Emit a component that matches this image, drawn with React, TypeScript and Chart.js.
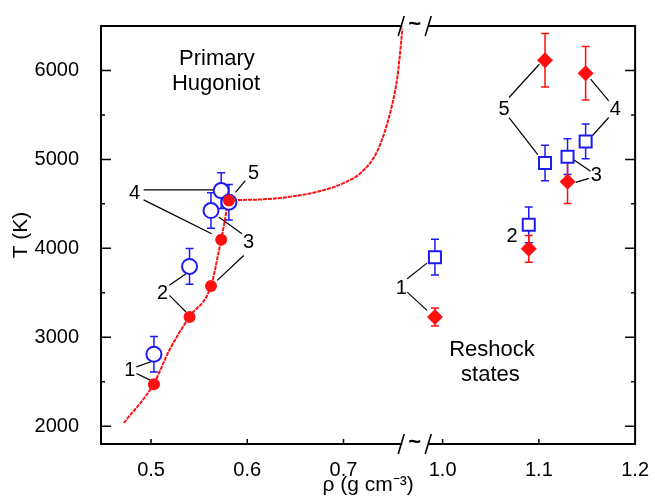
import React, { useEffect, useRef } from "react";
import { Chart, registerables } from "chart.js";
Chart.register(...registerables);

// ---- axis break handling (real density -> display coordinate) ----
const BREAK_OFFSET = 0.197;
const BREAK_AT = 0.7745;
const disp = (rho: number) => (rho > 0.85 ? rho - BREAK_OFFSET : rho);

const X_MIN = 0.448;
const X_MAX = 1.2;
const Y_MIN = 1800;
const Y_MAX = 6500;

const xTickValues = [0.5, 0.6, 0.7, 1.0, 1.1, 1.2];
const xTickLabels = ["0.5", "0.6", "0.7", "1.0", "1.1", "1.2"];
const yTickValues = [2000, 3000, 4000, 5000, 6000];
const yTickLabels = ["2000", "3000", "4000", "5000", "6000"];
const yMinorTicks = [2500, 3500, 4500, 5500];

// ---- primary Hugoniot ----
const hugRho = [0.503, 0.54, 0.5623, 0.5729, 0.5809];
const hugTcalc = [2473, 3228, 3576, 4096, 4537];
const hugTmeas = [2810, 3797, 4425, 4649, 4518];
const hugTmeasErr = [200, 200, 200, 200, 200];

// ---- reshock states ----
const reRho = [0.992, 1.0895, 1.1298, 1.1486, 1.1064];
const reTmeas = [3901, 4264, 5031, 5202, 4960];
const reTmeasErr = [200, 200, 200, 195, 200];
const reTcalc = [3228, 3995, 4750, 5969, 6115];
const reTcalcErr = [100, 150, 245, 300, 300];

// ---- calculated Hugoniot curve ----
const curveRho = [0.4717, 0.5026, 0.519, 0.5397, 0.5623, 0.5706, 0.5729, 0.5767, 0.5809, 0.5991, 0.6527, 0.6838, 0.7013, 0.7181, 0.7353, 0.749, 0.7559, 0.76, 0.7614];
const curveT = [2036, 2473, 2854, 3228, 3576, 3976, 4096, 4313, 4537, 4545, 4593, 4668, 4740, 4850, 5098, 5547, 5920, 6332, 6500];

// ---- number labels and leader lines ----
const labelText = ["1", "2", "3", "4", "5", "1", "2", "3", "4", "5"];
const labelRho = [0.4779, 0.5119, 0.6014, 0.483, 0.6066, 0.957, 1.0721, 1.1596, 1.1795, 1.0638];
const labelT = [2630, 3494, 4066, 4616, 4840, 3553, 4137, 4817, 5558, 5566];

const noteText = ["Primary", "Hugoniot", "Reshock", "states"];
const noteRho = [0.5685, 0.5675, 1.0513, 1.0497];
const noteT = [6130, 5849, 2854, 2574];

const leaderRho0 = [0.4848, 0.4848, 0.5191, 0.5191, 0.5706, 0.5688, 0.4923, 0.4923, 0.598, 0.9632, 0.9632, 1.1537, 1.152, 1.1726, 1.1726, 1.069, 1.069];
const leaderT0 = [2667, 2593, 3584, 3471, 4350, 3640, 4657, 4545, 4761, 3659, 3508, 4866, 4787, 5659, 5471, 5696, 5471];
const leaderRho1 = [0.5043, 0.4992, 0.5363, 0.5363, 0.5945, 0.5963, 0.5664, 0.563, 0.5878, 0.9838, 0.9838, 1.1366, 1.1383, 1.1538, 1.1555, 1.1005, 1.0989];
const leaderT1 = [2742, 2518, 3715, 3284, 4164, 3920, 4657, 4164, 4630, 3834, 3303, 4994, 4742, 5902, 5266, 6070, 5053];

const RED = "#ff1010";
const BLUE = "#1c1cf0";
const FONT = "'Liberation Sans', Arial, sans-serif";

const errorBars = [
  { rho: hugRho, t: hugTmeas, err: hugTmeasErr, color: BLUE },
  { rho: reRho, t: reTmeas, err: reTmeasErr, color: BLUE },
  { rho: reRho, t: reTcalc, err: reTcalcErr, color: RED },
];

const decorPlugin = {
  id: "decor",
  beforeDatasetsDraw(chart: any) {
    const { ctx } = chart;
    const xs = chart.scales.x;
    const ys = chart.scales.y;
    ctx.save();
    ctx.lineWidth = 1.5;
    errorBars.forEach((s) => {
      ctx.strokeStyle = s.color;
      s.rho.forEach((r, i) => {
        const px = xs.getPixelForValue(disp(r));
        const y0 = ys.getPixelForValue(s.t[i] - s.err[i]);
        const y1 = ys.getPixelForValue(s.t[i] + s.err[i]);
        ctx.beginPath();
        ctx.moveTo(px, y0);
        ctx.lineTo(px, y1);
        ctx.moveTo(px - 4, y0);
        ctx.lineTo(px + 4, y0);
        ctx.moveTo(px - 4, y1);
        ctx.lineTo(px + 4, y1);
        ctx.stroke();
      });
    });
    ctx.restore();
  },
  afterDatasetsDraw(chart: any) {
    const { ctx, chartArea } = chart;
    const { left, right, top, bottom } = chartArea;
    const xs = chart.scales.x;
    const ys = chart.scales.y;
    ctx.save();
    // frame
    ctx.strokeStyle = "#000";
    ctx.lineWidth = 2;
    ctx.strokeRect(left, top, right - left, bottom - top);
    // ticks
    ctx.lineWidth = 1.5;
    ctx.beginPath();
    yTickValues.forEach((v) => {
      const py = ys.getPixelForValue(v);
      ctx.moveTo(left, py);
      ctx.lineTo(left + 10, py);
      ctx.moveTo(right, py);
      ctx.lineTo(right - 10, py);
    });
    yMinorTicks.forEach((v) => {
      const py = ys.getPixelForValue(v);
      ctx.moveTo(left, py);
      ctx.lineTo(left + 4, py);
      ctx.moveTo(right, py);
      ctx.lineTo(right - 4, py);
    });
    xTickValues.forEach((v) => {
      const px = xs.getPixelForValue(disp(v));
      if (px < right - 2) {
        ctx.moveTo(px, bottom);
        ctx.lineTo(px, bottom - 5);
      }
    });
    ctx.stroke();
    // axis break
    const bx = xs.getPixelForValue(BREAK_AT);
    [top, bottom].forEach((yy) => {
      ctx.fillStyle = "#fff";
      ctx.fillRect(bx - 13, yy - 3, 26, 6);
      ctx.strokeStyle = "#000";
      ctx.lineWidth = 1.6;
      ctx.beginPath();
      ctx.moveTo(bx - 17, yy + 10);
      ctx.lineTo(bx - 11, yy - 10);
      ctx.moveTo(bx + 10, yy + 10);
      ctx.lineTo(bx + 16, yy - 10);
      ctx.stroke();
      ctx.fillStyle = "#000";
      ctx.font = `bold 22px ${FONT}`;
      ctx.textAlign = "center";
      ctx.textBaseline = "middle";
      ctx.fillText("~", bx - 0.5, yy - 1);
    });
    // labels
    ctx.fillStyle = "#000";
    ctx.textAlign = "center";
    ctx.textBaseline = "middle";
    ctx.font = `20px ${FONT}`;
    labelText.forEach((t, i) => {
      ctx.fillText(t, xs.getPixelForValue(disp(labelRho[i])), ys.getPixelForValue(labelT[i]));
    });
    ctx.font = `22px ${FONT}`;
    noteText.forEach((t, i) => {
      ctx.fillText(t, xs.getPixelForValue(disp(noteRho[i])), ys.getPixelForValue(noteT[i]));
    });
    ctx.restore();
  },
};

export default function App() {
  const ref = useRef<HTMLCanvasElement>(null);
  useEffect(() => {
    const leaderSets = leaderRho0.map((r0, i) => ({
      data: [
        { x: disp(r0), y: leaderT0[i] },
        { x: disp(leaderRho1[i]), y: leaderT1[i] },
      ],
      showLine: true,
      borderColor: "#000",
      borderWidth: 1.2,
      pointRadius: 0,
      order: 5,
    }));
    const chart = new Chart(ref.current!, {
      type: "scatter",
      data: {
        datasets: [
          {
            data: hugRho.map((r, i) => ({ x: disp(r), y: hugTcalc[i] })),
            pointStyle: "circle",
            pointRadius: 6,
            backgroundColor: RED,
            borderColor: RED,
            borderWidth: 0,
            order: 0,
          },
          {
            data: reRho.map((r, i) => ({ x: disp(r), y: reTcalc[i] })),
            pointStyle: "rectRot",
            pointRadius: 8,
            backgroundColor: RED,
            borderColor: RED,
            borderWidth: 0,
            order: 0,
          },
          {
            data: hugRho.map((r, i) => ({ x: disp(r), y: hugTmeas[i] })),
            pointStyle: "circle",
            pointRadius: 7.5,
            backgroundColor: "#fff",
            borderColor: BLUE,
            borderWidth: 2,
            order: 1,
          },
          {
            data: reRho.map((r, i) => ({ x: disp(r), y: reTmeas[i] })),
            pointStyle: "rect",
            pointRadius: 8.5,
            backgroundColor: "#fff",
            borderColor: BLUE,
            borderWidth: 2,
            order: 1,
          },
          {
            data: curveRho.map((r, i) => ({ x: disp(r), y: curveT[i] })),
            showLine: true,
            borderColor: RED,
            borderWidth: 2,
            borderDash: [4, 1],
            cubicInterpolationMode: "monotone",
            pointRadius: 0,
            order: 3,
          },
          ...leaderSets,
        ] as any,
      },
      options: {
        responsive: false,
        devicePixelRatio: 1,
        animation: false,
        events: [],
        layout: { padding: { top: 25, right: 15, left: 0, bottom: 0 } },
        plugins: { legend: { display: false }, tooltip: { enabled: false } },
        scales: {
          x: {
            type: "linear",
            min: X_MIN,
            max: disp(X_MAX),
            afterBuildTicks: (s: any) => {
              s.ticks = xTickValues.map((v) => ({ value: disp(v) }));
            },
            afterFit: (s: any) => {
              s.height = 52;
            },
            grid: { display: false },
            border: { display: false },
            ticks: {
              callback: (_v: any, i: number) => xTickLabels[i],
              font: { family: FONT, size: 20 },
              color: "#000",
              padding: 6,
              maxRotation: 0,
              autoSkip: false,
            },
            title: {
              display: true,
              text: "ρ (g cm⁻³)",
              font: { family: FONT, size: 21, lineHeight: 1.0 },
              color: "#000",
              padding: 0,
            },
          },
          y: {
            type: "linear",
            min: Y_MIN,
            max: Y_MAX,
            afterBuildTicks: (s: any) => {
              s.ticks = yTickValues.map((v) => ({ value: v }));
            },
            afterFit: (s: any) => {
              s.width = 101;
            },
            grid: { display: false },
            border: { display: false },
            ticks: {
              callback: (_v: any, i: number) => yTickLabels[i],
              font: { family: FONT, size: 20 },
              color: "#000",
              padding: 14,
            },
            title: {
              display: true,
              text: "T (K)",
              font: { family: FONT, size: 21, lineHeight: 1.2 },
              color: "#000",
              padding: { top: 9, bottom: 0 },
            },
          },
        },
      } as any,
      plugins: [decorPlugin],
    });
    return () => chart.destroy();
  }, []);
  return (
    <div style={{ position: "absolute", left: 0, top: 0, width: 655, height: 496, background: "#fff" }}>
      <canvas ref={ref} width={655} height={496} style={{ width: 655, height: 496 }} />
    </div>
  );
}
